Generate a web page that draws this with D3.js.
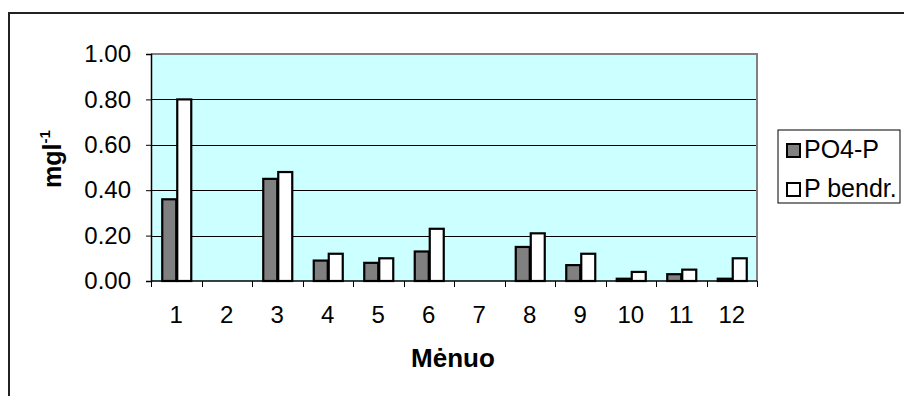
<!DOCTYPE html>
<html>
<head>
<meta charset="utf-8">
<script src="https://cdn.jsdelivr.net/npm/d3@7"></script>
<style>
  html, body { margin: 0; padding: 0; background: #fff; }
  svg { display: block; }
  text { font-family: Arial, "Liberation Sans", sans-serif; fill: #000; }
</style>
</head>
<body>
<svg id="chart" width="904" height="396"></svg>
<script>
// Months and the two phosphorus series (mg/l); null = no sample
const months = ["1", "2", "3", "4", "5", "6", "7", "8", "9", "10", "11", "12"];
const po4p   = [0.36, null, 0.45, 0.09, 0.08, 0.13, null, 0.15, 0.07, 0.01, 0.03, 0.01];
const pTotal = [0.80, null, 0.48, 0.12, 0.10, 0.23, null, 0.21, 0.12, 0.04, 0.05, 0.10];
const seriesNames = ["PO4-P", "P bendr."];
const seriesFills = ["#808080", "#ffffff"];
const yTicks = [0, 0.2, 0.4, 0.6, 0.8, 1.0];

const svg = d3.select("#chart");

// Outer chart frame (runs off the right and bottom edges)
svg.append("rect")
  .attr("x", 9).attr("y", 13)
  .attr("width", 1000).attr("height", 500)
  .attr("fill", "#fff")
  .attr("stroke", "#222").attr("stroke-width", 2);

const plot = { left: 151, right: 757, top: 54, bottom: 281 };

const x = d3.scaleBand()
  .domain(months)
  .range([plot.left, plot.right])
  .paddingInner(0).paddingOuter(0);

const y = d3.scaleLinear()
  .domain([0, 1])
  .range([plot.bottom, plot.top]);

// Plot background
svg.append("rect")
  .attr("x", plot.left).attr("y", plot.top)
  .attr("width", plot.right - plot.left).attr("height", plot.bottom - plot.top)
  .attr("fill", "#ccffff");

// Horizontal gridlines
svg.append("g")
  .selectAll("line")
  .data(yTicks.filter(t => t > 0 && t < 1))
  .join("line")
  .attr("x1", plot.left).attr("x2", plot.right)
  .attr("y1", d => Math.round(y(d)) + 0.5).attr("y2", d => Math.round(y(d)) + 0.5)
  .attr("stroke", "#000").attr("stroke-width", 1);

// Gray plot border on top and right
svg.append("path")
  .attr("d", `M${plot.left},${plot.top}H${plot.right}V${plot.bottom}`)
  .attr("fill", "none")
  .attr("stroke", "#808080").attr("stroke-width", 2);

// Grouped bars
const groupWidth = 30 / 50.5;
const xs = d3.scaleBand()
  .domain(seriesNames)
  .range([0, x.bandwidth() * groupWidth]);
const groupOffset = (x.bandwidth() - x.bandwidth() * groupWidth) / 2;

const rows = months.map((m, i) => ({ month: m, values: [po4p[i], pTotal[i]] }));

const groups = svg.append("g")
  .selectAll("g")
  .data(rows)
  .join("g")
  .attr("transform", d => `translate(${x(d.month) + groupOffset},0)`);

groups.selectAll("rect")
  .data(d => d.values.map((v, k) => ({ key: seriesNames[k], value: v, k }))
                     .filter(e => e.value !== null))
  .join("rect")
  .attr("x", d => xs(d.key) + 1)
  .attr("y", d => y(d.value))
  .attr("width", xs.bandwidth() - 1)
  .attr("height", d => y(0) - y(d.value))
  .attr("fill", d => seriesFills[d.k])
  .attr("stroke", "#000")
  .attr("stroke-width", 2.2);

// Y axis
const yAxis = d3.axisLeft(y)
  .tickValues(yTicks)
  .tickFormat(d3.format(".2f"))
  .tickSize(5)
  .tickPadding(15);

const gy = svg.append("g")
  .attr("transform", `translate(${plot.left},0)`)
  .call(yAxis);
gy.select(".domain").attr("stroke", "#000").attr("stroke-width", 1.5);
gy.selectAll(".tick line").attr("stroke", "#000");
gy.selectAll(".tick text")
  .attr("font-size", 24)
  .attr("font-family", "Arial, 'Liberation Sans', sans-serif")
  .attr("fill", "#000");

// X axis: ticks sit on category boundaries, labels centred in each band
svg.append("line")
  .attr("x1", plot.left).attr("x2", plot.right)
  .attr("y1", plot.bottom).attr("y2", plot.bottom)
  .attr("stroke", "#000").attr("stroke-width", 1.5);

const boundaries = months.map(m => x(m)).concat([x(months[months.length - 1]) + x.bandwidth()]);
svg.append("g")
  .selectAll("line")
  .data(boundaries)
  .join("line")
  .attr("x1", d => Math.round(d) + 0.5).attr("x2", d => Math.round(d) + 0.5)
  .attr("y1", plot.bottom).attr("y2", plot.bottom + 6)
  .attr("stroke", "#000").attr("stroke-width", 1);

svg.append("g")
  .selectAll("text")
  .data(months)
  .join("text")
  .attr("x", d => x(d) + x.bandwidth() / 2)
  .attr("y", 323)
  .attr("text-anchor", "middle")
  .attr("font-size", 24)
  .text(d => d);

// Axis titles
svg.append("text")
  .attr("x", (plot.left + plot.right) / 2 - 1)
  .attr("y", 367)
  .attr("text-anchor", "middle")
  .attr("font-size", 26)
  .attr("font-weight", "bold")
  .text("Mėnuo");

const yTitle = svg.append("text")
  .attr("transform", "translate(61,159) rotate(-90)")
  .attr("text-anchor", "middle")
  .attr("font-size", 25)
  .attr("font-weight", "bold");
yTitle.append("tspan").text("mgl");
yTitle.append("tspan").attr("font-size", 15).attr("dy", -11).text("-1");

// Legend
const legend = svg.append("g");
legend.append("rect")
  .attr("x", 778).attr("y", 130)
  .attr("width", 122).attr("height", 73)
  .attr("fill", "#fff")
  .attr("stroke", "#000").attr("stroke-width", 1);

const items = legend.selectAll("g.item")
  .data(seriesNames)
  .join("g")
  .attr("class", "item")
  .attr("transform", (d, i) => `translate(787,${144 + i * 39})`);

items.append("rect")
  .attr("width", 13).attr("height", 13)
  .attr("fill", (d, i) => seriesFills[i])
  .attr("stroke", "#000").attr("stroke-width", 2);

items.append("text")
  .attr("x", 17).attr("y", 14)
  .attr("font-size", 25)
  .text(d => d);
</script>
</body>
</html>
